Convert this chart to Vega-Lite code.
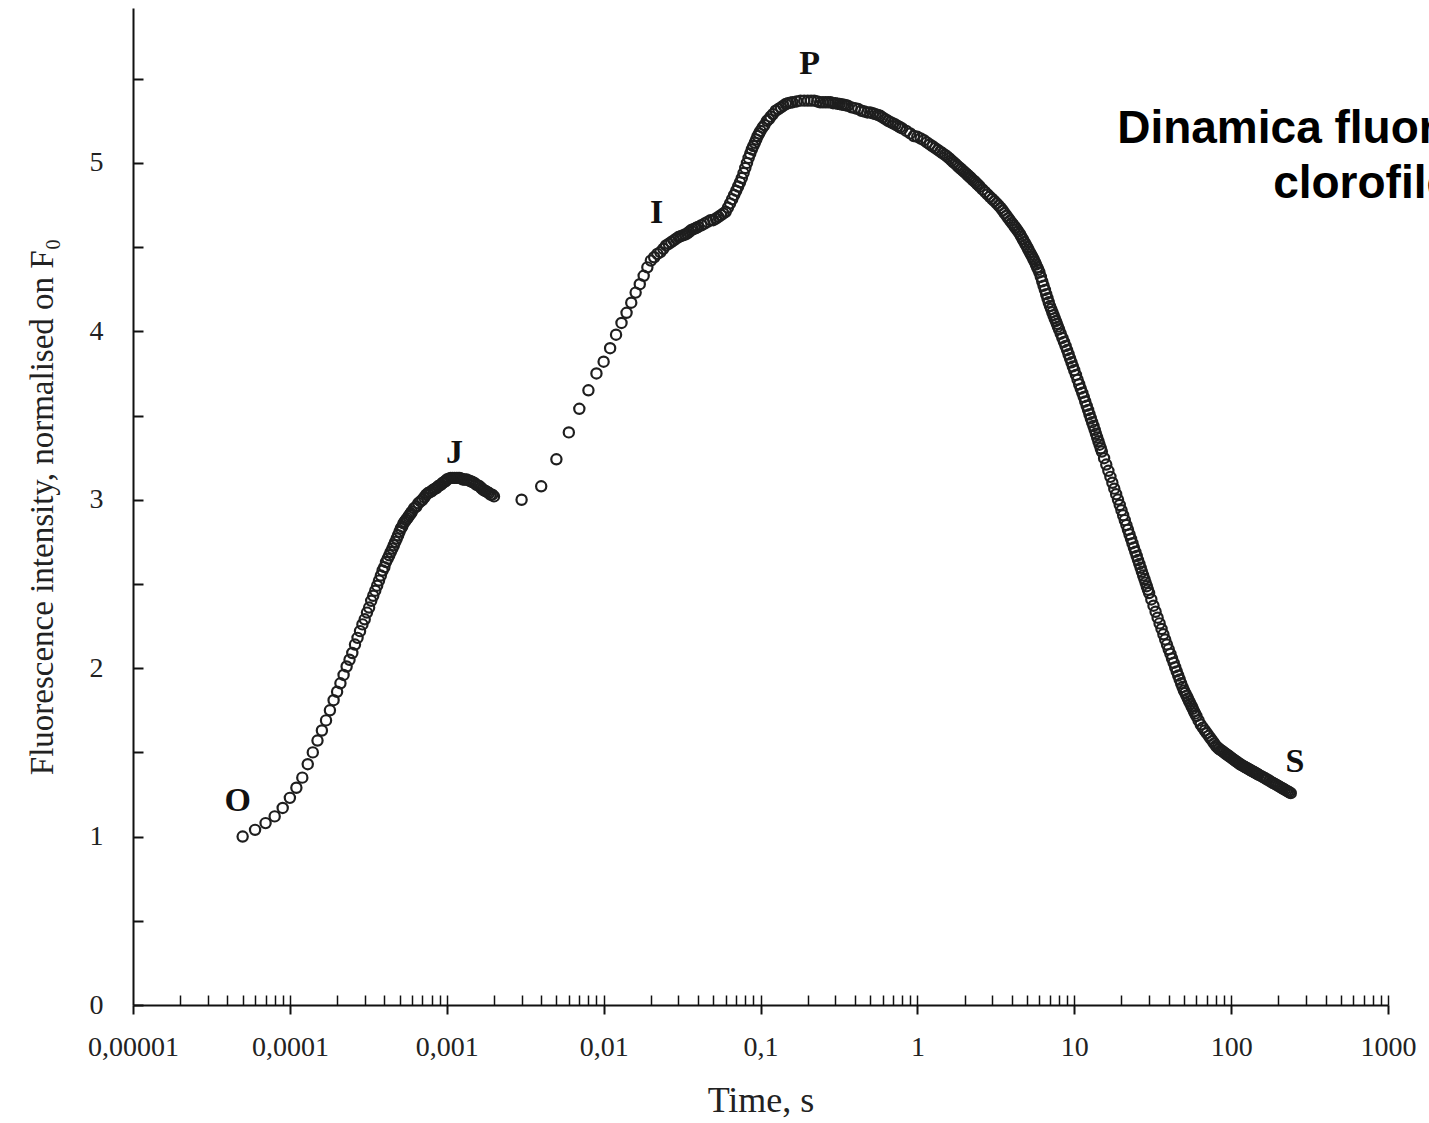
{
  "$schema": "https://vega.github.io/schema/vega-lite/v6.json",
  "width": 1255,
  "height": 997,
  "autosize": {"type": "none"},
  "padding": {"left": 133, "top": 8, "right": 41, "bottom": 118},
  "background": "white",
  "config": {"view": {"stroke": null}},
  "title": {
    "text": ["Dinamica fluorescenței", "clorofilei"],
    "orient": "top",
    "anchor": "end",
    "frame": "group",
    "align": "center",
    "baseline": "alphabetic",
    "font": "Liberation Sans",
    "fontWeight": "bold",
    "fontSize": 46,
    "lineHeight": 55,
    "color": "#000",
    "dx": -19,
    "dy": 240
  },
  "datasets": {
    "curve": [
      {"t":0.00005,"f":1.00},{"t":0.00006,"f":1.04},{"t":0.00007,"f":1.08},{"t":0.00008,"f":1.12},{"t":0.00009,"f":1.17},
      {"t":0.0001,"f":1.23},{"t":0.00011,"f":1.29},{"t":0.00012,"f":1.35},{"t":0.00013,"f":1.43},{"t":0.00014,"f":1.50},
      {"t":0.00015,"f":1.57},{"t":0.00016,"f":1.63},{"t":0.00017,"f":1.69},{"t":0.00018,"f":1.75},{"t":0.00019,"f":1.81},
      {"t":0.0002,"f":1.86},{"t":0.00021,"f":1.91},{"t":0.00022,"f":1.96},{"t":0.00023,"f":2.01},{"t":0.00024,"f":2.05},
      {"t":0.00025,"f":2.09},{"t":0.00026,"f":2.14},{"t":0.00027,"f":2.18},{"t":0.00028,"f":2.22},{"t":0.00029,"f":2.26},
      {"t":0.0003,"f":2.29},{"t":0.00031,"f":2.33},{"t":0.00032,"f":2.36},{"t":0.00033,"f":2.40},{"t":0.00034,"f":2.43},
      {"t":0.00035,"f":2.46},{"t":0.00036,"f":2.49},{"t":0.00037,"f":2.52},{"t":0.00038,"f":2.55},{"t":0.00039,"f":2.58},
      {"t":0.0004,"f":2.60},{"t":0.00041,"f":2.63},{"t":0.00042,"f":2.65},{"t":0.00043,"f":2.67},{"t":0.00044,"f":2.69},
      {"t":0.00045,"f":2.71},{"t":0.00046,"f":2.73},{"t":0.00047,"f":2.75},{"t":0.00048,"f":2.77},{"t":0.00049,"f":2.79},
      {"t":0.0005,"f":2.81},{"t":0.00051,"f":2.83},{"t":0.00052,"f":2.84},{"t":0.00053,"f":2.86},{"t":0.00054,"f":2.87},
      {"t":0.00055,"f":2.88},{"t":0.00056,"f":2.89},{"t":0.00057,"f":2.90},{"t":0.00058,"f":2.91},{"t":0.00059,"f":2.92},
      {"t":0.0006,"f":2.93},{"t":0.00062,"f":2.95},{"t":0.00064,"f":2.96},{"t":0.00066,"f":2.98},{"t":0.00068,"f":2.99},
      {"t":0.0007,"f":3.00},{"t":0.00072,"f":3.015},{"t":0.00074,"f":3.03},{"t":0.00076,"f":3.04},{"t":0.00078,"f":3.045},
      {"t":0.0008,"f":3.05},{"t":0.00082,"f":3.06},{"t":0.00084,"f":3.065},{"t":0.00086,"f":3.07},{"t":0.00088,"f":3.08},
      {"t":0.0009,"f":3.085},{"t":0.00092,"f":3.09},{"t":0.00094,"f":3.10},{"t":0.00096,"f":3.105},{"t":0.00098,"f":3.11},
      {"t":0.001,"f":3.12},{"t":0.00103,"f":3.125},{"t":0.00106,"f":3.13},{"t":0.00109,"f":3.13},{"t":0.00112,"f":3.13},
      {"t":0.00115,"f":3.13},{"t":0.00118,"f":3.13},{"t":0.00121,"f":3.13},{"t":0.00124,"f":3.125},{"t":0.00127,"f":3.12},
      {"t":0.0013,"f":3.12},{"t":0.00134,"f":3.12},{"t":0.00138,"f":3.115},{"t":0.00142,"f":3.11},{"t":0.00146,"f":3.105},
      {"t":0.0015,"f":3.10},{"t":0.00154,"f":3.09},{"t":0.00158,"f":3.085},{"t":0.00162,"f":3.08},{"t":0.00166,"f":3.07},
      {"t":0.0017,"f":3.06},{"t":0.00174,"f":3.055},{"t":0.00178,"f":3.05},{"t":0.00182,"f":3.045},{"t":0.00186,"f":3.04},
      {"t":0.0019,"f":3.03},{"t":0.00195,"f":3.03},
      {"t":0.002,"f":3.02},{"t":0.003,"f":3.00},{"t":0.004,"f":3.08},{"t":0.005,"f":3.24},{"t":0.006,"f":3.40},
      {"t":0.007,"f":3.54},{"t":0.008,"f":3.65},{"t":0.009,"f":3.75},{"t":0.01,"f":3.82},{"t":0.011,"f":3.90},
      {"t":0.012,"f":3.98},{"t":0.013,"f":4.05},{"t":0.014,"f":4.11},{"t":0.015,"f":4.17},{"t":0.016,"f":4.23},
      {"t":0.017,"f":4.28},{"t":0.018,"f":4.33},{"t":0.019,"f":4.38},{"t":0.02,"f":4.42},
      {"t":0.021,"f":4.44},{"t":0.022,"f":4.46},{"t":0.023,"f":4.47},{"t":0.024,"f":4.49},{"t":0.025,"f":4.51},
      {"t":0.026,"f":4.52},{"t":0.027,"f":4.53},{"t":0.028,"f":4.54},{"t":0.029,"f":4.55},{"t":0.03,"f":4.56},
      {"t":0.031,"f":4.565},{"t":0.032,"f":4.57},{"t":0.033,"f":4.575},{"t":0.034,"f":4.58},{"t":0.035,"f":4.59},
      {"t":0.036,"f":4.60},{"t":0.037,"f":4.605},{"t":0.038,"f":4.61},{"t":0.039,"f":4.615},{"t":0.04,"f":4.62},
      {"t":0.042,"f":4.63},{"t":0.044,"f":4.64},{"t":0.046,"f":4.65},{"t":0.048,"f":4.66},{"t":0.05,"f":4.66},
      {"t":0.052,"f":4.67},{"t":0.054,"f":4.68},{"t":0.056,"f":4.69},{"t":0.058,"f":4.70},{"t":0.06,"f":4.71},
      {"t":0.062,"f":4.735},{"t":0.064,"f":4.76},{"t":0.066,"f":4.785},{"t":0.068,"f":4.81},{"t":0.07,"f":4.835},
      {"t":0.072,"f":4.86},{"t":0.074,"f":4.885},{"t":0.076,"f":4.91},{"t":0.078,"f":4.94},{"t":0.08,"f":4.97},
      {"t":0.082,"f":5.00},{"t":0.084,"f":5.03},{"t":0.086,"f":5.055},{"t":0.088,"f":5.08},{"t":0.09,"f":5.10},
      {"t":0.092,"f":5.12},{"t":0.094,"f":5.14},{"t":0.096,"f":5.16},{"t":0.098,"f":5.175},{"t":0.1,"f":5.19},
      {"t":0.103,"f":5.21},{"t":0.106,"f":5.225},{"t":0.11,"f":5.25},{"t":0.113,"f":5.26},{"t":0.116,"f":5.275},
      {"t":0.12,"f":5.29},{"t":0.125,"f":5.31},{"t":0.13,"f":5.32},{"t":0.135,"f":5.33},{"t":0.14,"f":5.34},
      {"t":0.145,"f":5.35},{"t":0.15,"f":5.355},{"t":0.155,"f":5.358},
      {"t":0.16,"f":5.36},{"t":0.17,"f":5.365},{"t":0.18,"f":5.37},{"t":0.19,"f":5.37},{"t":0.2,"f":5.37},
      {"t":0.21,"f":5.37},{"t":0.22,"f":5.37},{"t":0.23,"f":5.365},{"t":0.24,"f":5.36},{"t":0.25,"f":5.36},
      {"t":0.26,"f":5.36},{"t":0.27,"f":5.36},{"t":0.28,"f":5.36},{"t":0.29,"f":5.355},{"t":0.3,"f":5.355},
      {"t":0.31,"f":5.352},{"t":0.32,"f":5.35},{"t":0.33,"f":5.347},{"t":0.34,"f":5.345},{"t":0.35,"f":5.342},
      {"t":0.36,"f":5.34},{"t":0.38,"f":5.33},{"t":0.4,"f":5.325},
      {"t":0.42,"f":5.32},{"t":0.44,"f":5.31},{"t":0.46,"f":5.305},{"t":0.48,"f":5.30},{"t":0.5,"f":5.30},
      {"t":0.52,"f":5.295},{"t":0.54,"f":5.29},{"t":0.56,"f":5.285},{"t":0.58,"f":5.28},{"t":0.6,"f":5.27},
      {"t":0.625,"f":5.26},{"t":0.65,"f":5.25},{"t":0.675,"f":5.242},{"t":0.7,"f":5.235},{"t":0.725,"f":5.228},
      {"t":0.75,"f":5.22},{"t":0.775,"f":5.212},{"t":0.8,"f":5.205},{"t":0.85,"f":5.19},
      {"t":0.9,"f":5.175},{"t":0.95,"f":5.16},{"t":1.0,"f":5.155},{"t":1.05,"f":5.145},{"t":1.1,"f":5.135},
      {"t":1.15,"f":5.122},{"t":1.2,"f":5.11},{"t":1.25,"f":5.099},{"t":1.3,"f":5.088},{"t":1.35,"f":5.077},
      {"t":1.4,"f":5.067},{"t":1.45,"f":5.057},{"t":1.5,"f":5.048},{"t":1.55,"f":5.038},{"t":1.6,"f":5.027},
      {"t":1.65,"f":5.015},{"t":1.7,"f":5.004},{"t":1.75,"f":4.994},{"t":1.8,"f":4.983},{"t":1.85,"f":4.973},
      {"t":1.9,"f":4.964},{"t":1.95,"f":4.954},{"t":2.0,"f":4.945},{"t":2.05,"f":4.936},{"t":2.1,"f":4.927},{"t":2.15,"f":4.918},{"t":2.2,"f":4.91},
      {"t":2.25,"f":4.90},{"t":2.3,"f":4.893},{"t":2.35,"f":4.885},{"t":2.4,"f":4.876},{"t":2.45,"f":4.868},{"t":2.5,"f":4.859},{"t":2.6,"f":4.843},{"t":2.7,"f":4.828},
      {"t":2.8,"f":4.813},{"t":2.9,"f":4.799},{"t":3.0,"f":4.786},{"t":3.1,"f":4.773},{"t":3.2,"f":4.76},{"t":3.3,"f":4.747},{"t":3.4,"f":4.733},
      {"t":3.5,"f":4.718},{"t":3.6,"f":4.702},{"t":3.7,"f":4.687},{"t":3.8,"f":4.672},{"t":3.9,"f":4.658},{"t":4.0,"f":4.644},{"t":4.1,"f":4.631},{"t":4.2,"f":4.618},{"t":4.3,"f":4.605},{"t":4.4,"f":4.592},
      {"t":4.5,"f":4.578},{"t":4.6,"f":4.563},{"t":4.7,"f":4.547},{"t":4.8,"f":4.531},{"t":4.9,"f":4.516},{"t":5.0,"f":4.501},{"t":5.1,"f":4.486},{"t":5.2,"f":4.471},{"t":5.3,"f":4.457},{"t":5.4,"f":4.443},
      {"t":5.5,"f":4.428},{"t":5.6,"f":4.413},{"t":5.7,"f":4.397},{"t":5.8,"f":4.381},{"t":5.9,"f":4.366},{"t":6.0,"f":4.35},{"t":6.125,"f":4.323},{"t":6.25,"f":4.297},{"t":6.375,"f":4.271},{"t":6.5,"f":4.246},
      {"t":6.625,"f":4.221},{"t":6.75,"f":4.197},{"t":6.875,"f":4.173},{"t":7.0,"f":4.15},{"t":7.125,"f":4.132},{"t":7.25,"f":4.114},{"t":7.375,"f":4.096},{"t":7.5,"f":4.078},{"t":7.625,"f":4.061},{"t":7.75,"f":4.045},
      {"t":7.875,"f":4.028},{"t":8.0,"f":4.012},{"t":8.2,"f":3.986},{"t":8.4,"f":3.961},{"t":8.6,"f":3.937},{"t":8.8,"f":3.913},{"t":9.0,"f":3.889},{"t":9.2,"f":3.864},{"t":9.4,"f":3.84},{"t":9.6,"f":3.816},{"t":9.8,"f":3.792},
      {"t":10,"f":3.769},{"t":10.25,"f":3.741},{"t":10.5,"f":3.713},{"t":10.75,"f":3.686},{"t":11,"f":3.66},{"t":11.25,"f":3.635},{"t":11.5,"f":3.61},{"t":11.75,"f":3.584},{"t":12,"f":3.558},
      {"t":12.25,"f":3.533},{"t":12.5,"f":3.508},{"t":12.75,"f":3.484},{"t":13,"f":3.461},{"t":13.25,"f":3.438},{"t":13.5,"f":3.415},{"t":13.75,"f":3.392},{"t":14,"f":3.37},{"t":14.25,"f":3.348},{"t":14.5,"f":3.327},
      {"t":14.75,"f":3.306},{"t":15,"f":3.286},{"t":15.5,"f":3.247},{"t":16,"f":3.209},{"t":16.5,"f":3.172},{"t":17,"f":3.136},{"t":17.5,"f":3.101},{"t":18,"f":3.066},{"t":18.5,"f":3.033},{"t":19,"f":3.001},
      {"t":19.5,"f":2.969},{"t":20,"f":2.938},{"t":20.5,"f":2.908},{"t":21,"f":2.879},{"t":21.5,"f":2.85},{"t":22,"f":2.822},{"t":22.5,"f":2.795},{"t":23,"f":2.768},{"t":23.5,"f":2.742},{"t":24,"f":2.716},
      {"t":24.5,"f":2.691},{"t":25,"f":2.666},{"t":25.5,"f":2.642},{"t":26,"f":2.619},{"t":26.5,"f":2.596},{"t":27,"f":2.573},{"t":27.5,"f":2.551},{"t":28,"f":2.529},{"t":28.5,"f":2.508},{"t":29,"f":2.487},
      {"t":29.5,"f":2.466},{"t":30,"f":2.446},{"t":31,"f":2.408},{"t":32,"f":2.371},{"t":33,"f":2.335},{"t":34,"f":2.30},{"t":35,"f":2.266},{"t":36,"f":2.233},{"t":37,"f":2.201},{"t":38,"f":2.17},
      {"t":39,"f":2.14},{"t":40,"f":2.112},{"t":41,"f":2.085},{"t":42,"f":2.058},{"t":43,"f":2.032},{"t":44,"f":2.006},{"t":45,"f":1.981},{"t":46,"f":1.957},{"t":47,"f":1.933},{"t":48,"f":1.91},
      {"t":49,"f":1.888},{"t":50,"f":1.868},{"t":51,"f":1.852},{"t":52,"f":1.836},{"t":53,"f":1.82},{"t":54,"f":1.804},{"t":55,"f":1.789},{"t":56,"f":1.774},{"t":57,"f":1.759},{"t":58,"f":1.744},
      {"t":59,"f":1.73},{"t":60,"f":1.716},{"t":62,"f":1.69},{"t":64,"f":1.665},{"t":66,"f":1.647},{"t":68,"f":1.63},{"t":70,"f":1.614},{"t":72,"f":1.598},{"t":74,"f":1.583},{"t":76,"f":1.568},
      {"t":78,"f":1.553},{"t":80,"f":1.539},{"t":82,"f":1.529},{"t":84,"f":1.52},{"t":86,"f":1.513},{"t":88,"f":1.507},{"t":90,"f":1.5},{"t":92,"f":1.493},{"t":94,"f":1.487},{"t":96,"f":1.481},
      {"t":98,"f":1.475},{"t":100,"f":1.469},{"t":102.5,"f":1.461},{"t":105,"f":1.454},{"t":107.5,"f":1.447},{"t":110,"f":1.441},{"t":112.5,"f":1.434},{"t":115,"f":1.428},{"t":117.5,"f":1.423},{"t":120,"f":1.418},
      {"t":122.5,"f":1.413},{"t":125,"f":1.409},{"t":127.5,"f":1.404},{"t":130,"f":1.40},{"t":132.5,"f":1.395},{"t":135,"f":1.391},{"t":137.5,"f":1.387},{"t":140,"f":1.383},{"t":142.5,"f":1.379},{"t":145,"f":1.375},
      {"t":147.5,"f":1.371},{"t":150,"f":1.367},{"t":155,"f":1.36},{"t":160,"f":1.353},{"t":165,"f":1.346},{"t":170,"f":1.339},{"t":175,"f":1.332},{"t":180,"f":1.325},{"t":185,"f":1.319},{"t":190,"f":1.313},
      {"t":195,"f":1.307},{"t":200,"f":1.301},{"t":205,"f":1.295},{"t":210,"f":1.289},{"t":215,"f":1.284},{"t":220,"f":1.279},{"t":225,"f":1.273},{"t":230,"f":1.268},{"t":235,"f":1.263},{"t":240,"f":1.258}
    ],
    "labels": [
      {"t":0.0000465,"f":1.21,"label":"O"},
      {"t":0.00112,"f":3.28,"label":"J"},
      {"t":0.0218,"f":4.70,"label":"I"},
      {"t":0.206,"f":5.59,"label":"P"},
      {"t":255,"f":1.443,"label":"S"}
    ]
  },
  "resolve": {"axis": {"x": "independent"}},
  "layer": [
    {
      "data": {"name": "curve"},
      "mark": {"type": "point", "shape": "circle", "filled": false, "stroke": "#1e1e1e", "strokeWidth": 2.2, "size": 105, "opacity": 1},
      "encoding": {
        "x": {
          "field": "t", "type": "quantitative",
          "scale": {"type": "log", "domain": [0.00001, 1000], "nice": false},
          "axis": {
            "orient": "bottom",
            "values": [0.00001, 0.0001, 0.001, 0.01, 0.1, 1, 10, 100, 1000],
            "labelExpr": "replace(datum.value + '', '.', ',')",
            "grid": false,
            "tickSize": 9, "tickWidth": 2, "tickColor": "#111",
            "domainColor": "#111", "domainWidth": 2,
            "labelFont": "Liberation Serif", "labelFontSize": 28, "labelColor": "#222",
            "labelPadding": 19, "labelFlush": false, "labelOverlap": false,
            "title": "Time, s",
            "titleFont": "Liberation Serif", "titleFontSize": 36, "titleFontWeight": "normal", "titleColor": "#222",
            "titlePadding": 22
          }
        },
        "y": {
          "field": "f", "type": "quantitative",
          "scale": {"domain": [0, 5.92], "nice": false, "zero": true},
          "axis": {
            "values": [0, 0.5, 1, 1.5, 2, 2.5, 3, 3.5, 4, 4.5, 5, 5.5],
            "labelExpr": "datum.value % 1 == 0 ? datum.value + '' : ''",
            "grid": false,
            "tickSize": -10, "tickWidth": 2, "tickColor": "#111",
            "domainColor": "#111", "domainWidth": 2,
            "labelFont": "Liberation Serif", "labelFontSize": 28, "labelColor": "#222",
            "labelPadding": 40,
            "title": "Fluorescence intensity, normalised on F₀",
            "titleFont": "Liberation Serif", "titleFontSize": 33, "titleFontWeight": "normal", "titleColor": "#222",
            "titlePadding": 30
          }
        }
      }
    },
    {
      "data": {"name": "labels"},
      "mark": {"type": "text", "font": "Liberation Serif", "fontWeight": "bold", "fontSize": 34, "color": "#111", "align": "center", "baseline": "middle"},
      "encoding": {
        "x": {
          "field": "t", "type": "quantitative",
          "axis": {
            "orient": "bottom",
            "values": [0.00002,0.00003,0.00004,0.00005,0.00006,0.00007,0.00008,0.00009,0.0001,
                       0.0002,0.0003,0.0004,0.0005,0.0006,0.0007,0.0008,0.0009,0.001,
                       0.002,0.003,0.004,0.005,0.006,0.007,0.008,0.009,0.01,
                       0.02,0.03,0.04,0.05,0.06,0.07,0.08,0.09,0.1,
                       0.2,0.3,0.4,0.5,0.6,0.7,0.8,0.9,1,
                       2,3,4,5,6,7,8,9,10,
                       20,30,40,50,60,70,80,90,100,
                       200,300,400,500,600,700,800,900,1000],
            "labels": false, "domain": false, "grid": false, "title": null,
            "tickSize": -10, "tickWidth": 1.5, "tickColor": "#111"
          }
        },
        "y": {
          "field": "f", "type": "quantitative",
          "axis": {
            "values": [0, 0.5, 1, 1.5, 2, 2.5, 3, 3.5, 4, 4.5, 5, 5.5],
            "labelExpr": "datum.value % 1 == 0 ? datum.value + '' : ''",
            "grid": false,
            "tickSize": -10, "tickWidth": 2, "tickColor": "#111",
            "domainColor": "#111", "domainWidth": 2,
            "labelFont": "Liberation Serif", "labelFontSize": 28, "labelColor": "#222",
            "labelPadding": 40,
            "title": "Fluorescence intensity, normalised on F₀",
            "titleFont": "Liberation Serif", "titleFontSize": 33, "titleFontWeight": "normal", "titleColor": "#222",
            "titlePadding": 30
          }
        },
        "text": {"field": "label", "type": "nominal"}
      }
    }
  ]
}
